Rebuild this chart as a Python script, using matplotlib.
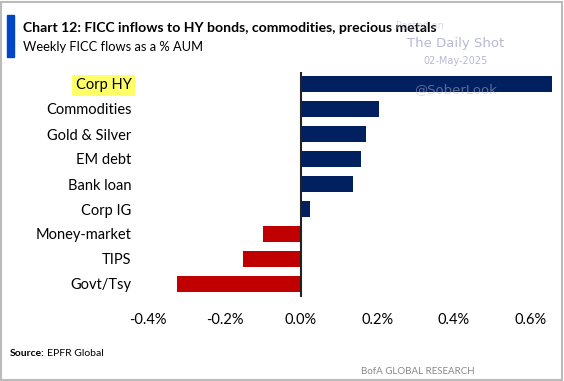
import matplotlib
matplotlib.use("Agg")
from matplotlib import pyplot as plt
from matplotlib.patches import Rectangle

categories = ["Corp HY", "Commodities", "Gold & Silver", "EM debt", "Bank loan",
              "Corp IG", "Money-market", "TIPS", "Govt/Tsy"]
flows = [0.655, 0.205, 0.171, 0.158, 0.137, 0.024, -0.099, -0.151, -0.324]
ticks = [-0.4, -0.2, 0.0, 0.2, 0.4, 0.6]

plt.rcParams['font.family'] = ['Lato', 'DejaVu Sans']

W, H = 564, 381
fig = plt.figure(figsize=(W/100, H/100), dpi=100)
fig.patch.set_facecolor('white')

ax = fig.add_axes([140/W, 1-296.5/H, 415/W, 225/H])
colors = ['#002060' if v > 0 else '#C00000' for v in flows]
ax.barh(range(len(flows)), flows, height=0.64, color=colors)
ax.set_ylim(8.5, -0.5)
ax.set_xlim((140-301)/382.5, (555-301)/382.5)
ax.axvline(0, color='#222222', lw=1.5)
ax.set_xticks(ticks)
ax.set_xticklabels([f"{t:.1f}%" for t in ticks], fontsize=10.5)
ax.set_yticks(range(len(categories)))
ax.set_yticklabels(categories, fontsize=10.5)
ax.tick_params(length=0)
ax.tick_params(axis='y', pad=6)
ax.tick_params(axis='x', pad=12)
for s in ax.spines.values():
    s.set_visible(False)
ax.get_yticklabels()[0].set_bbox(dict(facecolor='#FFFF66', edgecolor='none', pad=2.5))

# frame and title bar
fig.patches.append(Rectangle((1/W, 1/H), 1-3/W, 1-3/H, transform=fig.transFigure,
                             fill=False, edgecolor='#BBBBBB', lw=1.5))
fig.patches.append(Rectangle((7/W, 1-57/H), 7/W, 42/H, transform=fig.transFigure,
                             color='#0046C8'))

fig.text(23/W, 1-28/H, "Chart 12: FICC inflows to HY bonds, commodities, precious metals",
         fontsize=10.1, fontweight='bold', va='center', ha='left')
fig.text(23/W, 1-47/H, "Weekly FICC flows as a % AUM", fontsize=9.3, va='center',
         ha='left')

# watermark
wm = '#B8B8D4'
fig.text(396/W, 1-26/H, "Posted on", fontsize=7, color=wm, va='center', alpha=0.5,
         family='DejaVu Sans')
fig.text(456/W, 1-43/H, "The Daily Shot", fontsize=9.5, color=wm, va='center', ha='center',
         family='DejaVu Sans')
fig.text(456/W, 1-61/H, "02-May-2025", fontsize=7, color=wm, va='center', ha='center',
         family='DejaVu Sans')
fig.text(456/W, 1-90/H, "@SoberLook", fontsize=9.5, color=wm, va='center', ha='center',
         family='DejaVu Sans', alpha=0.5)

fig.text(10/W, 1-353/H, "Source:", fontsize=7.5, fontweight='bold', va='center')
fig.text(47/W, 1-353/H, "EPFR Global", fontsize=7.5, va='center')
fig.text(475/W, 1-372/H, "BofA GLOBAL RESEARCH", fontsize=7, color='#888888',
         va='center', ha='right')

fig.savefig("out.png", dpi=100)
